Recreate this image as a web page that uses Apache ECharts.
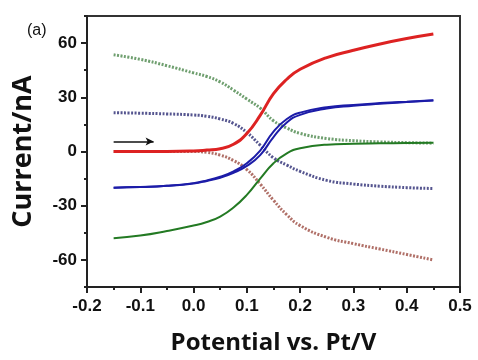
<!DOCTYPE html>
<html>
<head>
<meta charset="utf-8">
<script src="https://cdn.jsdelivr.net/npm/echarts@6/dist/echarts.min.js"></script>
<style>
html,body{margin:0;padding:0;background:#fff;}
#c{width:478px;height:360px;}
</style>
</head>
<body>
<div id="c"></div>
<script>
// Potential (V)
var potential = [-0.15, -0.1, -0.05, 0, 0.025, 0.05, 0.075, 0.1, 0.125, 0.15, 0.175, 0.2, 0.25, 0.3, 0.35, 0.4, 0.45];
// Currents (nA)
var redSolid    = [0, 0, 0, 0.3, 0.8, 1.5, 4, 10, 20, 32, 40, 45.5, 52, 56, 59.5, 62.5, 65];
var redDotted   = [0, 0, 0, 0, -0.5, -2, -5, -10, -18, -27, -35, -41, -47.5, -51, -54, -57, -60];
var blueSolidA  = [-20, -19.7, -19, -17.5, -16, -14, -11, -6.5, 0.5, 11, 18, 21.5, 24.5, 25.8, 26.8, 27.6, 28.3];
var blueSolidB  = [-20, -19.7, -19, -17.7, -16.3, -14.5, -11.8, -8, -2, 8, 16, 20.3, 23.8, 25.3, 26.4, 27.4, 28.2];
var blueDotted  = [21.5, 21.2, 20.8, 20.2, 19.5, 18, 15.5, 10.5, 3.5, -3.5, -7.5, -11, -16, -18, -19.2, -20, -20.5];
var greenSolid  = [-48, -46.5, -44, -41, -39, -36, -31, -24, -15, -6.5, -1, 1.8, 3.8, 4.3, 4.5, 4.7, 4.8];
var greenDotted = [53.5, 51, 47.5, 43.5, 41.5, 38.5, 34, 29, 24, 17, 13, 10, 7.2, 6, 5.3, 4.9, 4.6];

// Scan-direction arrow
var arrowX = [-0.15, -0.075];
var arrowY = [5.5, 5.5];

// Axis ticks
var yMajorTicks = [-60, -30, 0, 30, 60];
var yMinorTicks = [-75, -45, -15, 15, 45, 75];

function pairs(ys) { return potential.map(function (x, i) { return [x, ys[i]]; }); }

var dotted = [2, 1.5];
function mk(name, ys, color, width, type, z) {
  return {
    name: name, type: 'line', data: pairs(ys), smooth: 0.5,
    showSymbol: false, symbol: 'none', silent: true, z: z || 2,
    lineStyle: { color: color, width: width, type: type }
  };
}

var chart = echarts.init(document.getElementById('c'), null, { renderer: 'canvas' });
var lblFont = { color: '#111', fontSize: 17, fontWeight: 'bold', fontFamily: 'Liberation Sans, Arial, sans-serif' };

chart.setOption({
  animation: false,
  backgroundColor: '#fff',
  grid: { left: 87, right: 18, top: 16, bottom: 71, show: true, borderColor: '#333', borderWidth: 2, backgroundColor: 'transparent' },
  xAxis: {
    type: 'value', min: -0.2, max: 0.5, interval: 0.1,
    name: 'Potential vs. Pt/V', nameLocation: 'middle', nameGap: 44,
    nameTextStyle: { fontSize: 24, fontWeight: 'bold', fontFamily: 'Open Sans, Lato, sans-serif', color: '#111' },
    axisLine: { show: true, onZero: false, lineStyle: { color: '#222', width: 2 } },
    axisTick: { show: true, length: 6, lineStyle: { color: '#222', width: 2 } },
    minorTick: { show: true, splitNumber: 2, length: 3, lineStyle: { color: '#222', width: 2 } },
    axisLabel: Object.assign({ margin: 11, formatter: function (v) { return v.toFixed(1); } }, lblFont),
    splitLine: { show: false }
  },
  yAxis: [{
    type: 'value', min: -75, max: 75,
    name: 'Current/nA', nameLocation: 'middle', nameGap: 50,
    nameTextStyle: { fontSize: 27, fontWeight: 'bold', fontFamily: 'Open Sans, Lato, sans-serif', color: '#111' },
    axisLine: { show: true, onZero: false, lineStyle: { color: '#222', width: 2 } },
    axisTick: { show: true, length: 6, customValues: yMajorTicks, lineStyle: { color: '#222', width: 2 } },
    axisLabel: Object.assign({ margin: 10, customValues: yMajorTicks }, lblFont),
    splitLine: { show: false }
  }, {
    type: 'value', min: -75, max: 75, position: 'left',
    axisLine: { show: false, onZero: false },
    axisTick: { show: true, length: 3, customValues: yMinorTicks, lineStyle: { color: '#222', width: 2 } },
    axisLabel: { show: false },
    splitLine: { show: false }
  }],
  graphic: [{
    type: 'text', left: 27, top: 23,
    style: { text: '(a)', fontSize: 16, fontFamily: 'Liberation Sans, Arial, sans-serif', fill: '#111' }
  }],
  series: [
    mk('greenDotted', greenDotted, '#6f9f6f', 3, dotted, 2),
    mk('blueDotted', blueDotted, '#55558f', 3, dotted, 2),
    mk('redDotted', redDotted, '#b07068', 3, dotted, 2),
    mk('greenSolid', greenSolid, '#237a23', 2, 'solid', 3),
    mk('blueSolidA', blueSolidA, '#1c1ca8', 2, 'solid', 3),
    mk('blueSolidB', blueSolidB, '#1c1ca8', 2, 'solid', 3),
    mk('redSolid', redSolid, '#dd2222', 3, 'solid', 4),
    {
      name: 'arrow', type: 'line', data: [], silent: true,
      markLine: {
        silent: true, symbol: ['none', 'arrow'], symbolSize: [6, 8],
        label: { show: false },
        lineStyle: { color: '#111', width: 1.5, type: 'solid' },
        data: [[{ coord: [arrowX[0], arrowY[0]] }, { coord: [arrowX[1], arrowY[1]] }]]
      }
    }
  ]
});
</script>
</body>
</html>
